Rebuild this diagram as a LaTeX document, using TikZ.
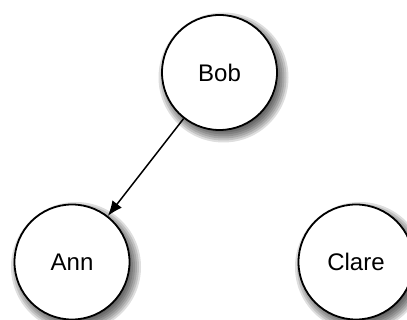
\documentclass[tikz,border=0pt]{standalone}
\usepackage{fontspec}
\setmainfont{Liberation Sans}
\usetikzlibrary{arrows.meta}

\begin{document}
\begin{tikzpicture}[x=1pt,y=-1pt,
                    person/.style={circle,draw,line width=1.8pt,fill=white,
                      minimum size=115pt,inner sep=0pt,
                      font=\fontsize{24}{28}\selectfont}]
                    \useasboundingbox(0,0)rectangle(407,320);
                    % soft shadows, stacked rings
                    \foreach \x/\y in {219.5/72.5,72/262,356/262}
                      \foreach \r in {53,55,...,65}
                        \fill[black,opacity=.13](\x+4,\y+5)circle(\r);
                    \node[person](bob)at(219.5,72.5){Bob};
                    \node[person](ann)at(72,262){Ann};
                    \node[person](clare)at(356,262){Clare};
                    \draw[line width=1.5pt,-{Latex[length=15pt,width=12pt]}](bob)--(ann);
                \end{tikzpicture}
\end{document}
